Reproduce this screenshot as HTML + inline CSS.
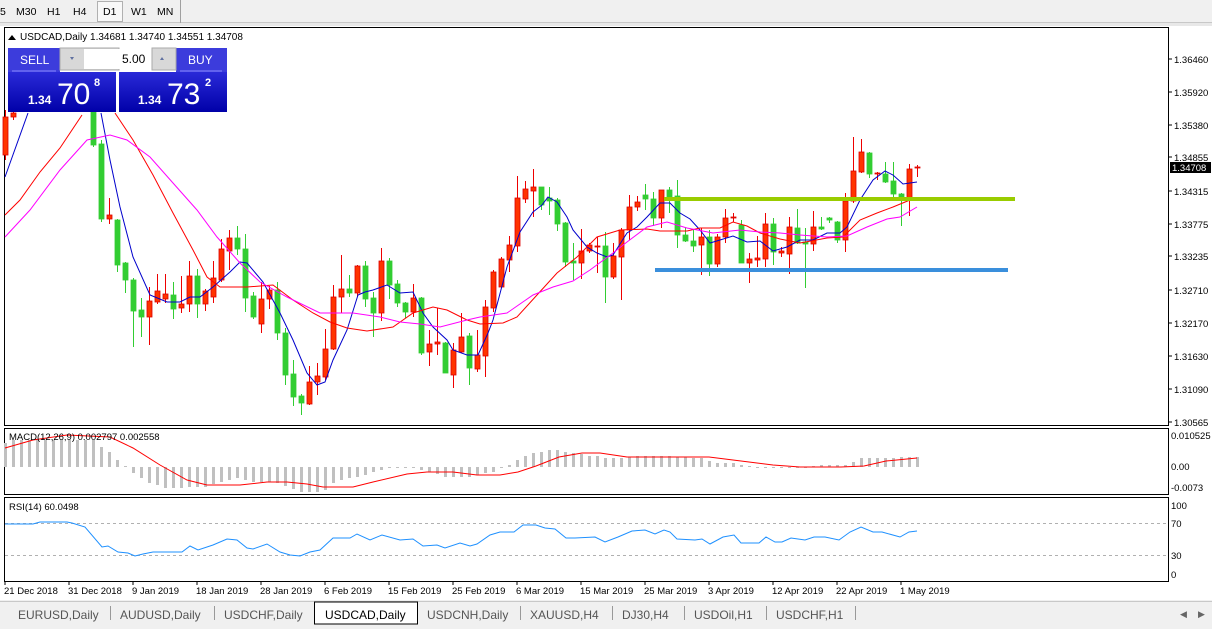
<!DOCTYPE html>
<html><head><meta charset="utf-8"><style>
body{margin:0;width:1212px;height:629px;overflow:hidden;background:#fff;font-family:"Liberation Sans",sans-serif;}
#c{position:absolute;left:0;top:0}
</style></head><body>
<svg id="c" width="1212" height="629" xmlns="http://www.w3.org/2000/svg" font-family="Liberation Sans, sans-serif" font-size="10">
<rect x="0" y="0" width="1212" height="23" fill="#f0f0f0"/>
<line x1="0" y1="23" x2="1212" y2="23" stroke="#a0a0a0"/>
<g font-size="10.5" fill="#000">
<text x="0" y="15">5</text><text x="16" y="15">M30</text><text x="47" y="15">H1</text><text x="73" y="15">H4</text>
<rect x="97.5" y="1.5" width="25" height="20" fill="#f8f8f8" stroke="#b0b0b0"/><text x="103" y="15">D1</text>
<text x="131" y="15">W1</text><text x="157" y="15">MN</text></g>
<line x1="180.5" y1="0" x2="180.5" y2="23" stroke="#a0a0a0"/>
<rect x="0" y="23" width="1212" height="3" fill="#e8e8e8"/>
<rect x="4.5" y="27.5" width="1164" height="398" fill="#fff" stroke="#000"/>
<rect x="4.5" y="428.5" width="1164" height="66" fill="#fff" stroke="#000"/>
<rect x="4.5" y="497.5" width="1164" height="84" fill="#fff" stroke="#000"/>
<g id="main"></g>
<line x1="655" y1="270" x2="1008" y2="270" stroke="#3a8fdc" stroke-width="4"/>
<line x1="664" y1="199" x2="1015" y2="199" stroke="#99cc00" stroke-width="4"/>
<!-- header -->
<path d="M8 40 L12 35 L16 40 Z" fill="#000"/>
<text x="20" y="40" font-size="10">USDCAD,Daily  1.34681 1.34740 1.34551 1.34708</text>
<defs><linearGradient id="bg" x1="0" y1="0" x2="0" y2="1"><stop offset="0" stop-color="#2a2ad8"/><stop offset="1" stop-color="#0000a8"/></linearGradient></defs>
<rect x="8" y="48" width="52" height="24" fill="#3c3cdc"/>
<line x1="12" y1="71" x2="56" y2="71" stroke="#8888ff"/>
<text x="20" y="64" fill="#fff" font-size="12">SELL</text>
<rect x="60" y="48" width="59" height="22" fill="#d8d8d8" stroke="#aaa"/>
<rect x="84" y="49" width="68" height="20" fill="#fff"/>
<rect x="176" y="48" width="51" height="24" fill="#3c3cdc"/>
<line x1="180" y1="71" x2="222" y2="71" stroke="#8888ff"/>
<rect x="152" y="48" width="24" height="22" fill="#d8d8d8" stroke="#aaa"/>
<text x="122" y="63" font-size="12">5.00</text>
<path d="M70 57 L74 57 L72 60Z" fill="#6070a0"/><path d="M160 60 L164 60 L162 57Z" fill="#6070a0"/>
<text x="188" y="64" fill="#fff" font-size="12">BUY</text>
<rect x="8" y="72" width="108" height="40" fill="url(#bg)"/>
<rect x="119" y="72" width="108" height="40" fill="url(#bg)"/>
<text x="28" y="104" fill="#fff" font-size="12" font-weight="bold">1.34</text>
<text x="57" y="104" fill="#fff" font-size="30">70</text>
<text x="94" y="86" fill="#fff" font-size="11" font-weight="bold">8</text>
<text x="138" y="104" fill="#fff" font-size="12" font-weight="bold">1.34</text>
<text x="167" y="104" fill="#fff" font-size="30">73</text>
<text x="205" y="86" fill="#fff" font-size="11" font-weight="bold">2</text>
<!-- axes -->
<g id="axis" font-size="9.5"></g>
<rect x="1170" y="162" width="41" height="11" fill="#000"/>
<text x="1172" y="171" fill="#fff" font-size="9.5">1.34708</text>
<text x="9" y="440" font-size="9.5">MACD(12,26,9) 0.002797 0.002558</text>
<text x="9" y="510" font-size="9.5">RSI(14) 60.0498</text>
<!-- tabs -->
<rect x="0" y="600" width="1212" height="29" fill="#f0f0f0"/>
<line x1="0" y1="601.5" x2="1212" y2="601.5" stroke="#c8c8c8"/>
<g id="tabs" font-size="12" fill="#555"></g>
<text x="1180" y="617" font-size="9" fill="#666">◀</text><text x="1198" y="617" font-size="9" fill="#666">▶</text>
</svg>
<script>
const NS="http://www.w3.org/2000/svg";
function el(p,t,a,txt){const e=document.createElementNS(NS,t);for(const k in a)e.setAttribute(k,a[k]);if(txt!==undefined)e.textContent=txt;p.appendChild(e);return e;}
const M=document.getElementById('main');
const C=[[0,117,155,110,160,'r'],[1,113,117,111,120,'r'],[11,100,145,100,147,'g'],[12,144,219,140,222,'g'],[13,215,219,198,224,'r'],[14,220,265,219,272,'g'],[15,263,280,262,293,'g'],[16,280,311,278,347,'g'],[17,310,317,298,337,'g'],[18,301,317,287,345,'r'],[19,291,302,274,304,'r'],[20,294,299,274,303,'r'],[21,295,309,282,319,'g'],[22,304,308,276,313,'r'],[23,276,304,261,312,'r'],[24,276,304,269,318,'g'],[25,291,304,289,311,'r'],[26,278,297,261,303,'r'],[27,249,280,239,282,'r'],[28,238,251,230,270,'r'],[29,238,249,226,255,'g'],[30,249,298,234,312,'g'],[31,296,317,292,319,'g'],[32,299,324,282,333,'r'],[33,290,299,286,309,'r'],[34,290,333,282,340,'g'],[35,333,375,328,385,'g'],[36,374,397,360,406,'g'],[37,396,403,394,415,'g'],[38,382,404,366,405,'r'],[39,376,382,363,395,'r'],[40,349,377,329,380,'r'],[41,297,349,285,350,'r'],[42,289,297,255,313,'r'],[43,289,293,275,297,'g'],[44,266,293,265,297,'r'],[45,266,299,261,307,'g'],[46,298,313,292,337,'g'],[47,261,313,248,321,'r'],[48,261,285,258,299,'g'],[49,284,303,280,307,'g'],[50,303,312,302,318,'g'],[51,298,312,284,317,'r'],[52,298,353,297,355,'g'],[53,344,352,330,366,'r'],[54,342,344,308,355,'r'],[55,343,373,342,373,'g'],[56,350,375,343,388,'r'],[57,337,352,313,353,'r'],[58,336,368,333,385,'g'],[59,355,369,330,372,'r'],[60,307,356,300,377,'r'],[61,272,308,270,312,'r'],[62,259,287,257,288,'r'],[63,245,260,236,272,'r'],[64,198,246,176,252,'r'],[65,189,199,181,203,'r'],[66,187,191,169,217,'r'],[67,187,205,187,210,'g'],[68,198,201,187,215,'g'],[69,200,224,198,231,'g'],[70,223,262,222,267,'g'],[71,261,263,243,280,'g'],[72,251,263,229,279,'r'],[73,245,251,243,253,'r'],[74,246,247,237,273,'r'],[75,246,277,232,303,'g'],[76,256,277,243,279,'r'],[77,230,257,228,300,'r'],[78,207,230,195,240,'r'],[79,202,207,196,211,'r'],[80,195,199,184,210,'g'],[81,199,218,192,226,'g'],[82,190,218,190,228,'r'],[83,190,197,187,213,'g'],[84,196,235,180,248,'g'],[85,235,241,227,242,'g'],[86,241,246,230,252,'g'],[87,237,245,228,275,'r'],[88,237,264,230,276,'g'],[89,237,264,234,267,'r'],[90,218,237,209,243,'r'],[91,217,218,213,222,'r'],[92,225,263,220,263,'g'],[93,259,263,253,283,'r'],[94,258,260,236,267,'r'],[95,224,259,213,267,'r'],[96,224,252,218,265,'g'],[97,251,253,247,257,'r'],[98,227,254,217,274,'r'],[99,228,243,209,244,'g'],[100,242,244,228,288,'g'],[101,227,244,211,251,'r'],[102,227,229,217,230,'g'],[103,218,220,217,223,'g'],[104,222,240,221,243,'g'],[105,201,240,193,252,'r'],[106,171,201,137,203,'r'],[107,152,172,139,173,'r'],[108,153,174,152,178,'g'],[109,173,174,172,180,'r'],[110,174,182,162,183,'g'],[111,181,194,162,197,'g'],[112,194,197,193,226,'g'],[113,169,200,164,216,'r'],[114,167,168,165,177,'r']];
for(const [i,bt,bb,wt,wb,c] of C){const x=5.5+8*i;const col=c=='r'?'#ff3300':'#32cd32';const sc=c=='r'?'#dd0000':'#32cd32';
el(M,'line',{x1:x,y1:wt,x2:x,y2:wb,stroke:c=='r'?'#ee0000':'#32cd32','stroke-width':1});
el(M,'rect',{x:x-2.5,y:bt,width:5,height:Math.max(1,bb-bt),fill:col,stroke:sc,'stroke-width':0.8});}
function pl(pts,col,w,par){el(par||M,'polyline',{points:pts.map(p=>p.join(',')).join(' '),fill:'none',stroke:col,'stroke-width':w||1});}
pl([[5,177],[28,113]],'#0000cc');
pl([[101,113],[110,160],[120,207],[133,257],[150,295],[167,302],[180,302],[190,297],[200,297],[213,287],[230,272],[240,262],[247,263],[263,282],[280,313],[293,340],[307,373],[317,385],[325,382],[333,360],[347,330],[358,295],[365,292],[373,290],[387,285],[400,293],[413,292],[423,313],[433,327],[447,340],[453,350],[467,355],[478,355],[488,333],[493,320],[507,267],[520,232],[533,212],[542,205],[548,197],[557,202],[567,217],[573,230],[587,247],[597,253],[607,257],[613,255],[627,233],[637,227],[647,217],[660,203],[670,203],[680,213],[690,219],[700,230],[710,243],[720,240],[733,236],[747,242],[760,241],[773,251],[787,247],[800,240],[813,240],[827,233],[840,233],[847,227],[860,200],[873,180],[885,171],[893,175],[903,184],[910,183],[917,182]],'#0000cc');
pl([[5,215],[20,200],[40,172],[60,148],[82,115]],'#ff0000');
pl([[115,113],[133,140],[153,175],[173,213],[193,250],[207,277],[220,287],[247,287],[273,285],[293,300],[313,313],[330,322],[347,328],[367,331],[393,327],[413,313],[433,307],[447,310],[467,320],[480,324],[503,323],[517,317],[537,295],[557,273],[577,257],[597,237],[620,230],[647,229],[660,231],[687,231],[700,228],[720,228],[733,222],[747,226],[760,233],[780,239],[800,243],[827,238],[843,237],[860,220],[877,213],[893,207],[910,200]],'#ff0000');
pl([[5,237],[30,210],[60,170],[87,140],[110,135],[127,140],[150,157],[173,183],[197,210],[217,237],[240,263],[260,282],[287,297],[320,313],[353,313],[380,317],[400,322],[420,324],[440,327],[467,320],[480,317],[507,313],[533,295],[553,287],[573,281],[590,270],[613,253],[627,242],[647,227],[667,222],[687,228],[713,233],[740,230],[760,232],[780,233],[800,235],[827,237],[847,236],[867,227],[887,219],[900,217],[917,207]],'#ff00ff');
// MACD hist
const H=[24,27,27,27,27,27,27,27,27,27,27,27,20,15,7,1,-6,-11,-16,-18,-21,-21,-21,-20,-20,-20,-17,-15,-13,-11,-13,-15,-15,-15,-16,-19,-22,-25,-25,-25,-23,-16,-13,-11,-10,-8,-5,-3,-1,-1,-1,-1,-3,-5,-7,-10,-10,-10,-10,-8,-6,-5,0,2,7,11,14,15,17,17,15,14,13,11,11,9,9,9,10,11,11,11,11,11,10,10,9,9,6,4,4,4,2,1,0,0,0,-1,0,0,0,1,2,2,2,2,5,9,9,9,9,9,10,10,10];
H.forEach((h,i)=>{const x=4+8*i;if(h>=0)el(M,'rect',{x:x,y:467-h,width:3,height:Math.max(h,1),fill:'#c0c0c0'});else el(M,'rect',{x:x,y:467,width:3,height:-h,fill:'#c0c0c0'});});
pl([[5,448],[33,440],[67,435],[110,437],[133,448],[160,465],[187,480],[207,485],[240,485],[267,482],[287,482],[307,484],[323,487],[353,487],[373,482],[407,474],[427,472],[453,472],[477,475],[500,475],[518,472],[536,466],[559,457],[582,453],[600,453],[627,457],[709,457],[741,461],[773,465],[800,467],[841,467],[864,466],[886,461],[917,458]],'#ff0000');
// RSI
el(M,'line',{x1:5,y1:523.5,x2:1168,y2:523.5,stroke:'#b0b0b0','stroke-dasharray':'3,3'});
el(M,'line',{x1:5,y1:555.5,x2:1168,y2:555.5,stroke:'#b0b0b0','stroke-dasharray':'3,3'});
pl([[5,524],[33,524],[40,522],[67,522],[72,523],[85,527],[102,547],[108,546],[118,552],[128,553],[135,556],[143,554],[153,552],[173,552],[182,552],[190,546],[198,550],[213,545],[227,539],[237,540],[247,548],[253,549],[267,544],[280,552],[290,555],[300,556],[310,552],[320,550],[333,538],[350,538],[357,534],[370,540],[382,535],[400,540],[413,539],[423,546],[437,545],[445,548],[460,543],[470,546],[477,544],[490,535],[500,532],[514,532],[523,525],[536,525],[545,528],[555,529],[566,538],[575,538],[595,537],[605,542],[618,537],[632,531],[645,530],[655,534],[664,530],[670,532],[677,539],[695,540],[702,539],[710,544],[723,537],[734,535],[741,543],[759,543],[766,537],[775,542],[782,542],[791,538],[805,540],[814,537],[825,537],[839,540],[850,532],[861,527],[873,532],[882,532],[900,537],[909,532],[917,531]],'#1e90ff');
// axes
const A=document.getElementById('axis');
[['1.36460',59],['1.35920',92],['1.35380',125],['1.34855',157],['1.34315',191],['1.33775',224],['1.33235',256],['1.32710',290],['1.32170',323],['1.31630',356],['1.31090',389],['1.30565',422]].forEach(([t,y])=>{el(A,'line',{x1:1168,y1:y,x2:1172,y2:y,stroke:'#000'});el(A,'text',{x:1174,y:y+4},t);});
[['0.010525',439],['0.00',470],['-0.0073',491]].forEach(([t,y])=>el(A,'text',{x:1171,y:y},t));
[['100',509],['70',527],['30',559],['0',578]].forEach(([t,y])=>el(A,'text',{x:1171,y:y},t));
['21 Dec 2018','31 Dec 2018','9 Jan 2019','18 Jan 2019','28 Jan 2019','6 Feb 2019','15 Feb 2019','25 Feb 2019','6 Mar 2019','15 Mar 2019','25 Mar 2019','3 Apr 2019','12 Apr 2019','22 Apr 2019','1 May 2019'].forEach((t,k)=>{const x=5+64*k;el(A,'line',{x1:x,y1:581,x2:x,y2:585,stroke:'#000'});el(A,'text',{x:x-1,y:594},t);});
// tabs
const T=document.getElementById('tabs');
[['EURUSD,Daily',8,110],['AUDUSD,Daily',110,214],['USDCHF,Daily',214,314],['USDCAD,Daily',314,417],['USDCNH,Daily',417,520],['XAUUSD,H4',520,612],['DJ30,H4',612,684],['USDOil,H1',684,766],['USDCHF,H1',766,855]].forEach(([t,a,b])=>{
if(t=='USDCAD,Daily'){el(T,'rect',{x:a+0.5,y:602,width:b-a,height:22,fill:'#fff',stroke:'#000'});el(T,'text',{x:a+11,y:619,fill:'#000'},t);}
else{el(T,'text',{x:a+10,y:619},t);el(T,'line',{x1:b+0.5,y1:606,x2:b+0.5,y2:620,stroke:'#999'});}});
</script>
</body></html>
